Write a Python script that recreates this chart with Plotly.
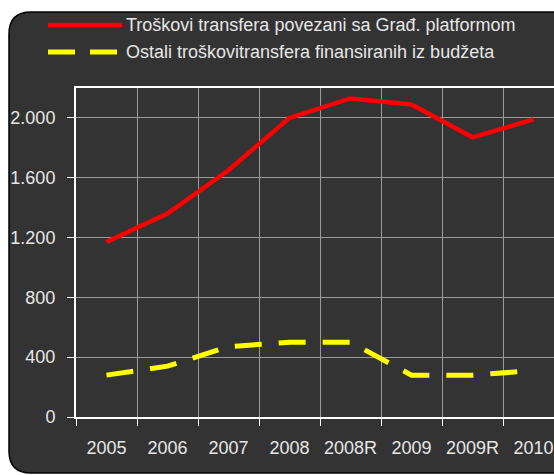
import plotly.graph_objects as go

categories = ["2005", "2006", "2007", "2008", "2008R", "2009", "2009R", "2010"]
red_values = [1170, 1360, 1650, 2000, 2130, 2090, 1870, 1990]
yellow_values = [280, 340, 470, 500, 500, 280, 280, 310]
series_names = ["Troškovi transfera povezani sa Građ. platformom",
                "Ostali troškovitransfera finansiranih iz budžeta"]
y_ticks = [0, 400, 800, 1200, 1600, 2000]

W, H = 554, 475
L, R, T, B = 76, 0, 88, 58
pw, ph = W - L - R, H - T - B
step = 61.0
FONT = "Arial, Liberation Sans, sans-serif"
TXT = "#e6e6e6"
BG = "#333333"
FS = 18


def px(x):
    return (x - L) / pw


def py(y):
    return (H - B - y) / ph


fig = go.Figure()
fig.add_trace(go.Scatter(x=categories, y=red_values, mode="lines",
                         line=dict(color="#ff0000", width=4.5),
                         name=series_names[0], showlegend=False))
fig.add_trace(go.Scatter(x=categories, y=yellow_values, mode="lines",
                         line=dict(color="#ffff00", width=5, dash="27px,17px"),
                         name=series_names[1], showlegend=False))

# rounded dark frame
x0, x1, y0, y1, r = 9, 640, 12, 473, 22
pts = [("M", (x0 + r, y0)), ("L", (x1, y0)), ("L", (x1, y1)), ("L", (x0 + r, y1)),
       ("Q", (x0, y1), (x0, y1 - r)), ("L", (x0, y0 + r)), ("Q", (x0, y0), (x0 + r, y0))]
path = ""
for p in pts:
    cmd = p[0]
    coords = " ".join(f"{px(a):.5f},{py(b):.5f}" for a, b in p[1:])
    path += f"{cmd}{coords} "
path += "Z"

shapes = [dict(type="path", path=path, xref="paper", yref="paper",
               fillcolor=BG, line=dict(color="#000000", width=1.5), layer="below")]

# legend (drawn manually)
shapes.append(dict(type="line", xref="paper", yref="paper",
                   x0=px(48), x1=px(122), y0=py(25), y1=py(25),
                   line=dict(color="#ff0000", width=4.5)))
shapes.append(dict(type="line", xref="paper", yref="paper",
                   x0=px(48), x1=px(118), y0=py(52), y1=py(52),
                   line=dict(color="#ffff00", width=5, dash="27px,15px")))
annotations = [
    dict(x=px(124), y=py(25), xref="paper", yref="paper", text=series_names[0],
         showarrow=False, xanchor="left", yanchor="middle",
         font=dict(family=FONT, size=FS, color=TXT)),
    dict(x=px(124), y=py(52), xref="paper", yref="paper", text=series_names[1],
         showarrow=False, xanchor="left", yanchor="middle",
         font=dict(family=FONT, size=FS, color=TXT)),
]

fig.update_layout(
    width=W, height=H,
    margin=dict(l=L, r=R, t=T, b=B, pad=0, autoexpand=False),
    paper_bgcolor="#ffffff", plot_bgcolor=BG,
    separators=",.",
    font=dict(family=FONT, size=FS, color=TXT),
    shapes=shapes, annotations=annotations,
    showlegend=False,
)
fig.update_xaxes(type="category", categoryorder="array", categoryarray=categories,
                 range=[-0.5, -0.5 + pw / step], tickson="boundaries",
                 tickangle=0, automargin=False,
                 showgrid=True, gridcolor="#9a9a9a", gridwidth=1,
                 showline=True, linecolor="#ffffff", linewidth=2, mirror=True,
                 ticks="outside", ticklen=7, tickcolor="#ffffff", tickwidth=1,
                 ticklabelstandoff=13,
                 tickfont=dict(family=FONT, size=FS, color=TXT))
fig.update_yaxes(range=[0, 2200], tickmode="array", tickvals=y_ticks,
                 tickformat=",d", automargin=False,
                 showgrid=True, gridcolor="#9a9a9a", gridwidth=1, zeroline=False,
                 showline=True, linecolor="#ffffff", linewidth=2, mirror=True,
                 ticks="outside", ticklen=7, tickcolor="#ffffff", tickwidth=1,
                 ticklabelstandoff=8,
                 tickfont=dict(family=FONT, size=FS, color=TXT))

fig.write_html("out.html", config={"displayModeBar": False},
               post_script="document.body.style.margin='0';document.body.style.overflow='hidden';")
